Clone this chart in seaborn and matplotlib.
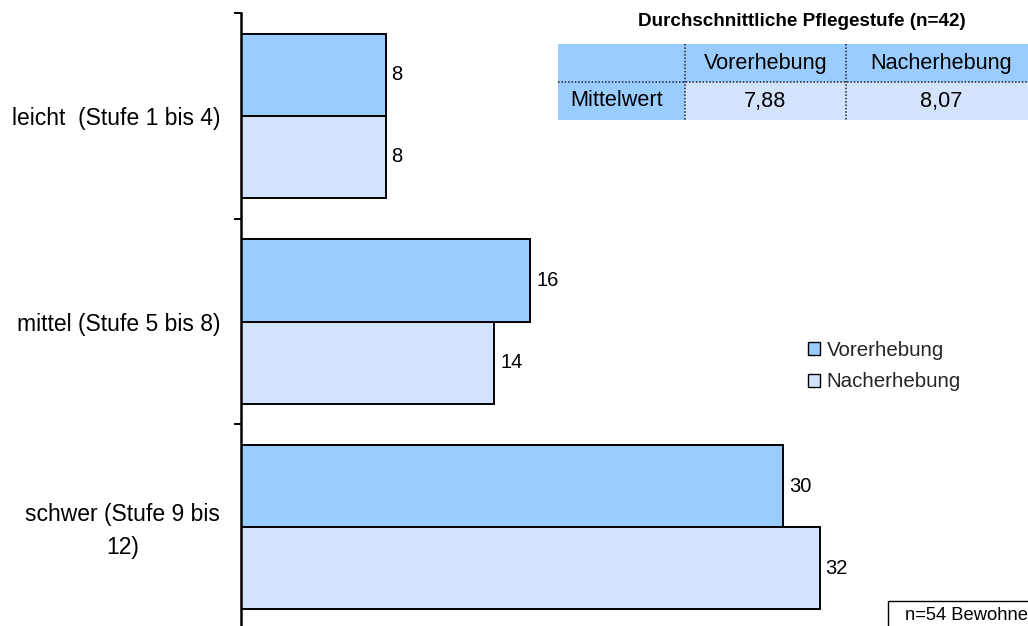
import matplotlib
matplotlib.use("Agg")
import matplotlib.pyplot as plt
from matplotlib.patches import Rectangle, Patch
from matplotlib.lines import Line2D
from matplotlib.transforms import ScaledTranslation
import seaborn as sns
import pandas as pd

# --- data -------------------------------------------------------------
categories = ["leicht  (Stufe 1 bis 4)", "mittel (Stufe 5 bis 8)", "schwer (Stufe 9 bis\n12)"]
series_names = ["Vorerhebung", "Nacherhebung"]
vorerhebung = [8, 16, 30]
nacherhebung = [8, 14, 32]

table_title = "Durchschnittliche Pflegestufe (n=42)"
table_row_label = "Mittelwert"
table_means = ["7,88", "8,07"]
note_text = "n=54 Bewohner"

colors = {"Vorerhebung": "#99CCFF", "Nacherhebung": "#D4E3FC"}

# --- figure setup -----------------------------------------------------
W, H = 1028, 626
sns.set_theme(style="white")
plt.rcParams["font.family"] = ["Liberation Sans", "DejaVu Sans"]

fig = plt.figure(figsize=(W / 100, H / 100), dpi=100)
fig.patch.set_facecolor("white")


def fx(x):
    return x / W


def fy(y):
    return 1 - y / H


# main axes: left spine at x=241, category band from y=13 to y=630
ax_left, ax_top, ax_bottom = 241, 13, 630
ax = fig.add_axes([fx(ax_left), fy(ax_bottom), (W - ax_left) / W, (ax_bottom - ax_top) / H])

df = pd.DataFrame({
    "Stufe": categories * 2,
    "Erhebung": [series_names[0]] * 3 + [series_names[1]] * 3,
    "Anzahl": vorerhebung + nacherhebung,
})

sns.barplot(data=df, y="Stufe", x="Anzahl", hue="Erhebung", order=categories,
            hue_order=series_names, palette=colors, saturation=1, width=0.8,
            edgecolor="black", linewidth=1.4, orient="h", ax=ax, legend=False)

for cont in ax.containers:
    ax.bar_label(cont, padding=4.3, fontsize=14.5, color="black")

px_per_unit = 18.08
ax.set_xlim(0, (W - ax_left) / px_per_unit)
ax.set_ylim(2.5, -0.5)
ax.set_xlabel("")
ax.set_ylabel("")
ax.set_xticks([])

# boundary ticks on the category axis, labels centered on each category
ax.set_yticks([-0.5, 0.5, 1.5, 2.5])
ax.set_yticklabels([])
ax.set_yticks([0, 1, 2], minor=True)
ax.set_yticklabels(categories, minor=True, fontsize=16.5, multialignment="center", linespacing=1.6)
ax.tick_params(axis="y", which="major", length=5, width=1.4, color="black", direction="out", left=True)
ax.tick_params(axis="y", which="minor", length=0, pad=15, labelcolor="black")

# two-line label sits slightly higher than its band centre
for lbl in ax.get_yticklabels(minor=True):
    if "\n" in lbl.get_text():
        lbl.set_transform(lbl.get_transform() + ScaledTranslation(0, 4 / 100, fig.dpi_scale_trans))

for s in ["top", "right", "bottom"]:
    ax.spines[s].set_visible(False)
ax.spines["left"].set_color("black")
ax.spines["left"].set_linewidth(1.8)

# legend
handles = [Patch(facecolor=colors[n], edgecolor="black", linewidth=1.0) for n in series_names]
fig.legend(handles, series_names, loc="upper left", bbox_to_anchor=(fx(808), fy(341)),
           frameon=False, fontsize=14.8, handlelength=0.6, handleheight=0.6,
           handletextpad=0.3, labelspacing=0.6, borderpad=0, borderaxespad=0)

# --- summary table ----------------------------------------------------
fig.text(fx(801.5), fy(22), table_title, ha="center", va="center",
         fontsize=13.6, fontweight="bold", color="black")

col_x = [558, 685, 846, 1037]
row_y = [44, 82, 120]
header_blue = colors["Vorerhebung"]
cell_pale = colors["Nacherhebung"]


def cell(x0, y0, x1, y1, color):
    fig.add_artist(Rectangle((fx(x0), fy(y1)), (x1 - x0) / W, (y1 - y0) / H,
                             transform=fig.transFigure, facecolor=color,
                             edgecolor="none", zorder=1))


# header row and row-label column in the darker blue, values in the pale blue
cell(col_x[0], row_y[0], col_x[3], row_y[1], header_blue)
cell(col_x[0], row_y[1], col_x[1], row_y[2], header_blue)
cell(col_x[1], row_y[1], col_x[3], row_y[2], cell_pale)

dot = dict(color="#222222", linewidth=1.1, linestyle=(0, (1, 1.2)), transform=fig.transFigure, zorder=2)
fig.add_artist(Line2D([fx(col_x[0]), fx(col_x[3])], [fy(row_y[1])] * 2, **dot))
for xv in col_x[1:3]:
    fig.add_artist(Line2D([fx(xv)] * 2, [fy(row_y[0]), fy(row_y[2])], **dot))

for i, name in enumerate(series_names):
    xc = (col_x[i + 1] + col_x[i + 2]) / 2
    fig.text(fx(xc), fy((row_y[0] + row_y[1]) / 2), name, ha="center", va="center",
             fontsize=15.6, color="black", zorder=3)
    fig.text(fx(xc), fy((row_y[1] + row_y[2]) / 2), table_means[i], ha="center", va="center",
             fontsize=15.6, color="black", zorder=3)
fig.text(fx(570), fy((row_y[1] + row_y[2]) / 2), table_row_label, ha="left", va="center",
         fontsize=15.6, color="black", zorder=3)

# --- sample size note (box runs past the figure edge) -----------------
fig.add_artist(Rectangle((fx(888), fy(640)), (1100 - 888) / W, (640 - 601) / H,
                         transform=fig.transFigure, facecolor="white",
                         edgecolor="black", linewidth=1.0, zorder=2))
fig.text(fx(905), fy(615), note_text, ha="left", va="center", fontsize=13.2,
         color="black", zorder=3)

fig.savefig("out.png", dpi=100)
